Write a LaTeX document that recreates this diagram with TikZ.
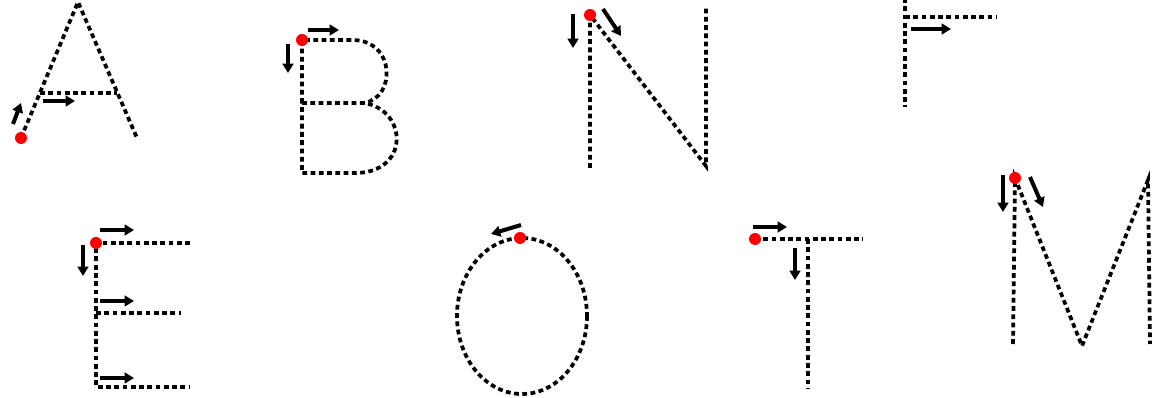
\documentclass[tikz,border=0pt]{standalone}
\usepackage{tikz}
\usetikzlibrary{arrows.meta}

\begin{document}
\begin{tikzpicture}[x=0.75pt, y=-0.75pt,
			spur/.style={line width=2.8pt, dash pattern=on 3.6pt off 2.6pt},
			zug/.style={line width=3pt, -{Triangle[length=7pt,width=8pt]}},
			start/.style={fill=red, draw=none}]
			\useasboundingbox (0,0) rectangle (1156,398);
			% Buchstabe A
			\coordinate (A0) at (21,138);
			\coordinate (A1) at (78,2);
			\coordinate (A2) at (137,138);
			\coordinate (A3) at (40,93);
			\coordinate (A4) at (117,93);
			\draw[spur] (A0) -- (A1) -- (A2);
			\draw[spur] (A3) -- (A4);
			\coordinate (Aa) at (13,124);
			\coordinate (Ab) at (21,103);
			\coordinate (Ac) at (43,101);
			\coordinate (Ad) at (75,101);
			\draw[zug] (Aa) -- (Ab);
			\draw[zug] (Ac) -- (Ad);
			\fill[start] (A0) circle [radius=6];
			% Buchstabe B
			\coordinate (B0) at (302,40);
			\coordinate (B1) at (352,40);
			\coordinate (B2) at (302,103);
			\coordinate (B3) at (364,103);
			\coordinate (B4) at (302,173);
			\coordinate (B5) at (355,173);
			\draw[spur] (B2) -- (B0) -- (B1) .. controls (396,40) and (396,98) .. (B3);
			\draw[spur] (B2) -- (B3) .. controls (408,110) and (410,173) .. (B5) -- (B4) -- (B2);
			\coordinate (Ba) at (308,30);
			\coordinate (Bb) at (339,30);
			\coordinate (Bc) at (288,44);
			\coordinate (Bd) at (288,73);
			\draw[zug] (Ba) -- (Bb);
			\draw[zug] (Bc) -- (Bd);
			\fill[start] (B0) circle [radius=6];
			% Buchstabe N
			\coordinate (N0) at (590,15);
			\coordinate (N1) at (590,168);
			\coordinate (N2) at (706,166);
			\coordinate (N3) at (706,8);
			\draw[spur] (N1) -- (N0) -- (N2) -- (N3);
			\coordinate (Na) at (573,14);
			\coordinate (Nb) at (573,48);
			\coordinate (Nc) at (603,9);
			\coordinate (Nd) at (621,36);
			\draw[zug] (Na) -- (Nb);
			\draw[zug] (Nc) -- (Nd);
			\fill[start] (N0) circle [radius=6];
			% Buchstabe F (oben abgeschnitten)
			\coordinate (F0) at (905,-2);
			\coordinate (F1) at (905,107);
			\coordinate (F2) at (905,17);
			\coordinate (F3) at (997,17);
			\draw[spur] (F0) -- (F1);
			\draw[spur] (F2) -- (F3);
			\coordinate (Fa) at (911,29);
			\coordinate (Fb) at (951,29);
			\draw[zug] (Fa) -- (Fb);
			% Buchstabe E
			\coordinate (E0) at (96,243);
			\coordinate (E1) at (96,387);
			\coordinate (E2) at (190,243);
			\coordinate (E3) at (96,313);
			\coordinate (E4) at (181,313);
			\coordinate (E5) at (190,387);
			\draw[spur] (E2) -- (E0) -- (E1) -- (E5);
			\draw[spur] (E3) -- (E4);
			\foreach \y in {230,301,378}
				\draw[zug] (100,\y) -- (134,\y);
			\coordinate (Ea) at (83,245);
			\coordinate (Eb) at (83,276);
			\draw[zug] (Ea) -- (Eb);
			\fill[start] (E0) circle [radius=6];
			% Buchstabe O
			\coordinate (O0) at (520,238);
			\coordinate (Om) at (522,316);
			\draw[spur] (Om) ellipse [x radius=65, y radius=78];
			\coordinate (Oa) at (521,225);
			\coordinate (Ob) at (491,234);
			\draw[zug] (Oa) -- (Ob);
			\fill[start] (O0) circle [radius=6];
			% Buchstabe T
			\coordinate (T0) at (755,239);
			\coordinate (T1) at (863,239);
			\coordinate (T2) at (808,239);
			\coordinate (T3) at (808,388);
			\draw[spur] (T0) -- (T1);
			\draw[spur] (T2) -- (T3);
			\coordinate (Ta) at (753,227);
			\coordinate (Tb) at (787,227);
			\coordinate (Tc) at (795,248);
			\coordinate (Td) at (795,280);
			\draw[zug] (Ta) -- (Tb);
			\draw[zug] (Tc) -- (Td);
			\fill[start] (T0) circle [radius=6];
			% Buchstabe M
			\coordinate (M0) at (1015,178);
			\coordinate (M1) at (1013,344);
			\coordinate (M2) at (1082,346);
			\coordinate (M3) at (1148,180);
			\coordinate (M4) at (1150,344);
			\draw[spur] (M1) -- (M0) -- (M2) -- (M3) -- (M4);
			\coordinate (Ma) at (1003,175);
			\coordinate (Mb) at (1003,212);
			\coordinate (Mc) at (1030,177);
			\coordinate (Md) at (1043,207);
			\draw[zug] (Ma) -- (Mb);
			\draw[zug] (Mc) -- (Md);
			\fill[start] (M0) circle [radius=6];
		\end{tikzpicture}
\end{document}
